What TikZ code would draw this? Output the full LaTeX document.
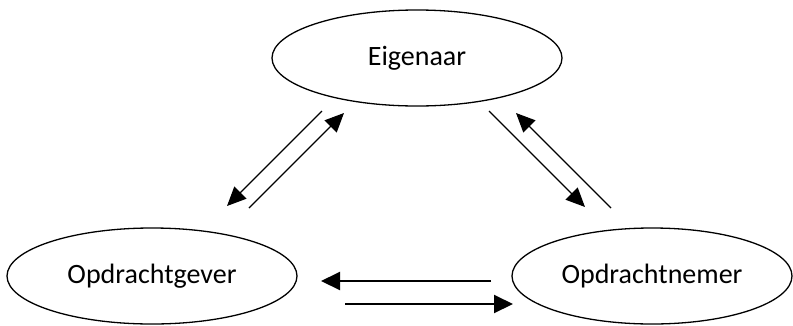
\documentclass[tikz,border=0pt]{standalone}
\usepackage{fontspec}
\setmainfont{Carlito}
\usetikzlibrary{shapes.geometric,arrows.meta}
\begin{document}
\begin{tikzpicture}[x=1pt,y=-1pt,
  party/.style={ellipse,draw,line width=1.3pt,minimum width=290pt,minimum height=96pt,inner sep=0pt,font=\fontsize{28}{32}\selectfont},
  thinarrow/.style={line width=1.1pt,-{Triangle[length=19pt,width=17pt]}},
  thickarrow/.style={line width=2pt,-{Triangle[length=19pt,width=18pt]}}]
\useasboundingbox (0,0) rectangle (793,325);
\node[party] (eig) at (417,58) {Eigenaar};
\node[party] (gev) at (152,276) {Opdrachtgever};
\node[party,minimum width=280pt] (nem) at (652,276) {Opdrachtnemer};
% left diagonal
\coordinate (a1) at (322,111); \coordinate (a2) at (227,206);
\coordinate (b1) at (249,208); \coordinate (b2) at (344,113);
% right diagonal
\coordinate (c1) at (489,111); \coordinate (c2) at (585,207);
\coordinate (d1) at (611,208); \coordinate (d2) at (516,113);
% bottom
\coordinate (e1) at (491,281); \coordinate (e2) at (321,281);
\coordinate (f1) at (345,304); \coordinate (f2) at (513,304);
\draw[thinarrow] (a1) -- (a2);
\draw[thinarrow] (b1) -- (b2);
\draw[thinarrow] (c1) -- (c2);
\draw[thinarrow] (d1) -- (d2);
\draw[thickarrow] (e1) -- (e2);
\draw[thickarrow] (f1) -- (f2);
\end{tikzpicture}
\end{document}
